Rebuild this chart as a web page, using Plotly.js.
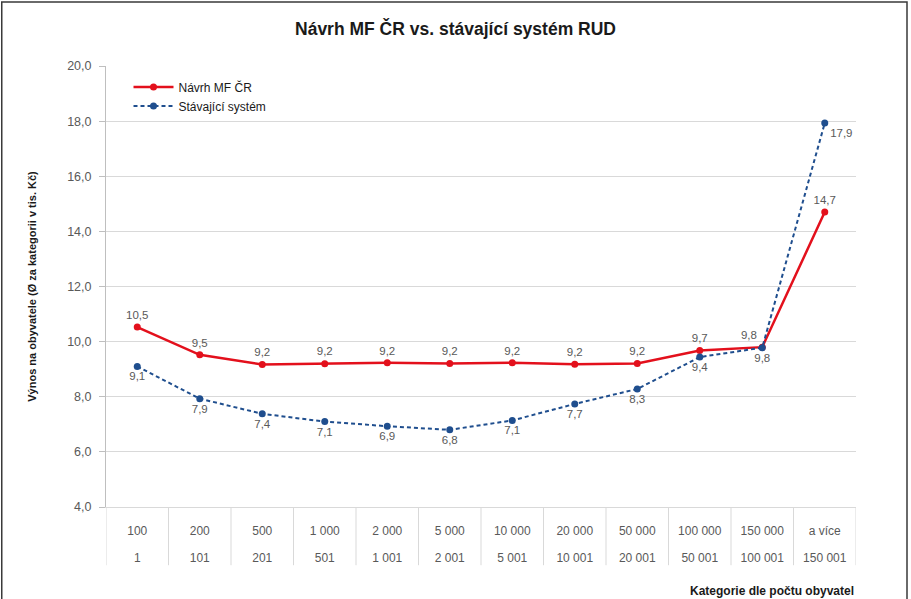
<!DOCTYPE html>
<html>
<head>
<meta charset="utf-8">
<script src="https://cdn.plot.ly/plotly-3.0.1.min.js"></script>
<style>html,body{margin:0;padding:0;background:#fff}#chart{width:911px;height:599px}</style>
</head>
<body>
<div id="chart"></div>
<script>
const upperBounds = ["100","200","500","1 000","2 000","5 000","10 000","20 000","50 000","100 000","150 000","a více"];
const lowerBounds = ["1","101","201","501","1 001","2 001","5 001","10 001","20 001","50 001","100 001","150 001"];
const navrhValues = [10.53, 9.52, 9.17, 9.2, 9.23, 9.21, 9.23, 9.18, 9.21, 9.68, 9.8, 14.7];
const stavajiciValues = [9.1, 7.93, 7.38, 7.1, 6.93, 6.8, 7.14, 7.74, 8.28, 9.44, 9.78, 17.93];
const seriesNames = ["Návrh MF ČR", "Stávající systém"];

const fmt = v => v.toFixed(1).replace('.', ',');
const font = "Liberation Sans, Arial, sans-serif";
const labelColor = "#595959";
const idx = upperBounds.map((_, i) => i);

const traces = [
  {
    x: upperBounds, y: navrhValues, name: seriesNames[0], type: "scatter", mode: "lines+markers+text",
    line: {color: "#e3101c", width: 2.5},
    marker: {color: "#e3101c", size: 7},
    text: navrhValues.map(fmt),
    textposition: navrhValues.map((v, i) => i === navrhValues.length - 2 ? "top left" : "top center"),
    textfont: {family: font, size: 11.5, color: labelColor},
    cliponaxis: false
  },
  {
    x: upperBounds, y: stavajiciValues, name: seriesNames[1], type: "scatter", mode: "lines+markers+text",
    line: {color: "#1f4e8e", width: 2, dash: "4px,3px"},
    marker: {color: "#1f4e8e", size: 7},
    text: stavajiciValues.map(fmt),
    textposition: stavajiciValues.map((v, i) => i === stavajiciValues.length - 1 ? "bottom right" : "bottom center"),
    textfont: {family: font, size: 11.5, color: labelColor},
    cliponaxis: false
  }
];

const shapes = [{
  type: "rect", xref: "paper", yref: "paper",
  x0: -0.139, x1: 1.068, y0: -0.25, y1: 1.1451,
  line: {color: "#3a3a3a", width: 1.5}, fillcolor: "rgba(0,0,0,0)", layer: "below"
}];
for (let i = 0; i <= upperBounds.length; i++) {
  shapes.push({
    type: "line", xref: "x", yref: "paper",
    x0: i - 0.5, x1: i - 0.5, y0: 0, y1: -0.132,
    line: {color: "#d9d9d9", width: 1}
  });
}

const layout = {
  width: 911, height: 599,
  margin: {l: 106, r: 55, t: 66, b: 92},
  paper_bgcolor: "#fff", plot_bgcolor: "#fff",
  separators: ", ",
  font: {family: font, size: 12, color: labelColor},
  title: {
    text: "<b>Návrh MF ČR vs. stávající systém RUD</b>",
    font: {family: font, size: 17.5, color: "#1a1a1a"},
    x: 0.5, xanchor: "center", y: 0.952, yanchor: "middle"
  },
  xaxis: {
    type: "category", range: [-0.5, 11.5],
    showgrid: false,
    showline: true, linecolor: "#d9d9d9", linewidth: 1,
    ticks: "", ticklabelstandoff: 13,
    tickfont: {family: font, size: 12, color: labelColor},
    fixedrange: true
  },
  xaxis2: {
    overlaying: "x", side: "bottom", anchor: "y",
    type: "linear", range: [-0.5, 11.5],
    tickmode: "array", tickvals: idx, ticktext: lowerBounds,
    showgrid: false, showline: false, zeroline: false,
    ticks: "", ticklabelstandoff: 42,
    tickfont: {family: font, size: 12, color: labelColor}
  },
  yaxis: {
    range: [4, 20], dtick: 2, tick0: 4, tickformat: ".1f",
    showgrid: true, gridcolor: "#d9d9d9", gridwidth: 1,
    showline: true, linecolor: "#bfbfbf", linewidth: 1,
    ticks: "outside", ticklen: 6, tickcolor: "#bfbfbf",
    ticklabelstandoff: 5,
    tickfont: {family: font, size: 12.5, color: labelColor},
    zeroline: false,
    title: {text: "<b>Výnos na obyvatele (Ø za kategorii v tis. Kč)</b>", font: {family: font, size: 11, color: "#1a1a1a"}, standoff: 28}
  },
  legend: {
    x: 0.03, y: 0.985, xanchor: "left", yanchor: "top",
    bgcolor: "rgba(255,255,255,0)",
    font: {family: font, size: 12, color: "#1a1a1a"},
    tracegroupgap: 0, itemwidth: 40
  },
  annotations: [{
    text: "<b>Kategorie dle počtu obyvatel</b>",
    xref: "paper", yref: "paper", x: 1.0, y: -0.19, xanchor: "right", yanchor: "middle",
    showarrow: false, font: {family: font, size: 12, color: "#1a1a1a"}
  }],
  shapes: shapes,
  showlegend: true
};

// invisible trace to activate xaxis2 (lower row of category labels)
traces.push({x: idx, y: navrhValues, xaxis: "x2", yaxis: "y", type: "scatter", mode: "none", showlegend: false, hoverinfo: "skip"});

Plotly.newPlot("chart", traces, layout, {displayModeBar: false, staticPlot: true});
</script>
</body>
</html>
